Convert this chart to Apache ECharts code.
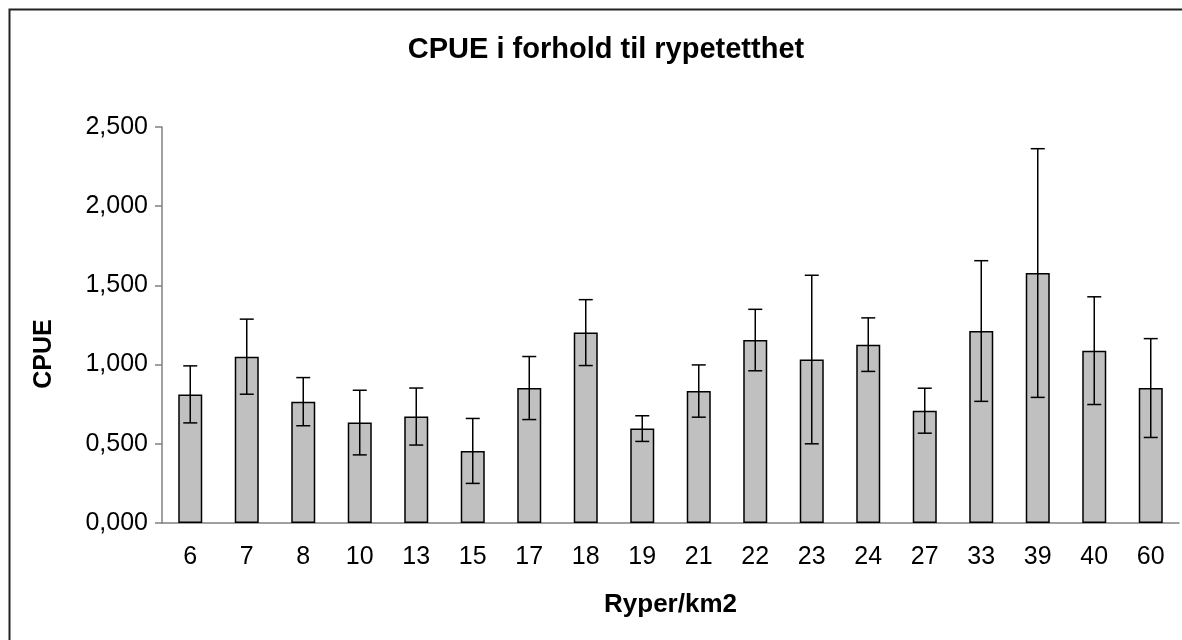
<!DOCTYPE html>
<html>
<head>
<meta charset="utf-8">
<script src="https://cdn.jsdelivr.net/npm/echarts@6/dist/echarts.min.js"></script>
<style>
    html, body { margin: 0; padding: 0; background: #fff; }
    #main { width: 1182px; height: 640px; }
</style>
</head>
<body>
<div id="main"></div>
<script>
    // Ryper/km2 categories
    var densities = ['6', '7', '8', '10', '13', '15', '17', '18', '19', '21', '22', '23', '24', '27', '33', '39', '40', '60'];
    // mean CPUE per density
    var cpue = [0.812, 1.050, 0.766, 0.634, 0.672, 0.455, 0.852, 1.202, 0.596, 0.833, 1.155, 1.032, 1.126, 0.709, 1.212, 1.578, 1.088, 0.852];
    // half length of the error bars
    var cpueErr = [0.180, 0.237, 0.152, 0.204, 0.180, 0.205, 0.199, 0.208, 0.081, 0.165, 0.194, 0.532, 0.169, 0.142, 0.444, 0.785, 0.340, 0.312];
    var yTicks = [0, 0.5, 1, 1.5, 2, 2.5];

    var font = '"Liberation Sans", Arial, sans-serif';

    var errData = cpue.map(function (v, i) {
        return [i, v - cpueErr[i], v + cpueErr[i]];
    });

    var chart = echarts.init(document.getElementById('main'));

    var option = {
        animation: false,
        backgroundColor: '#fff',
        title: {
            text: 'CPUE i forhold til rypetetthet',
            left: 601,
            top: 30,
            textAlign: 'center',
            textStyle: {
                fontFamily: font,
                fontWeight: 'bold',
                fontSize: 29,
                color: '#000'
            }
        },
        graphic: [
            {
                type: 'rect',
                left: 7,
                top: 7,
                shape: { width: 1200, height: 660 },
                style: { fill: 'none', stroke: '#222', lineWidth: 2 },
                silent: true
            },
            {
                type: 'text',
                x: 44,
                y: 354,
                rotation: Math.PI / 2,
                style: {
                    text: 'CPUE',
                    fontFamily: font,
                    fontWeight: 'bold',
                    fontSize: 25,
                    fill: '#000',
                    align: 'center',
                    verticalAlign: 'middle'
                }
            }
        ],
        grid: {
            left: 162,
            right: 3,
            top: 127,
            bottom: 117
        },
        xAxis: {
            type: 'category',
            data: densities,
            name: 'Ryper/km2',
            nameLocation: 'middle',
            nameGap: 69,
            nameTextStyle: {
                fontFamily: font,
                fontWeight: 'bold',
                fontSize: 26,
                color: '#000'
            },
            axisLine: { lineStyle: { color: '#808080', width: 1.5 } },
            axisTick: { length: 7, lineStyle: { color: '#808080', width: 1.5 } },
            axisLabel: {
                margin: 22,
                fontFamily: font,
                fontSize: 25,
                color: '#000'
            },
            splitLine: { show: false }
        },
        yAxis: {
            type: 'value',
            min: 0,
            max: yTicks[yTicks.length - 1],
            interval: 0.5,
            axisLine: { show: true, lineStyle: { color: '#808080', width: 1.5 } },
            axisTick: { show: true, length: 7, lineStyle: { color: '#808080', width: 1.5 } },
            axisLabel: {
                margin: 14,
                fontFamily: font,
                fontSize: 25,
                color: '#000',
                formatter: function (v) {
                    return v.toFixed(3).replace('.', ',');
                }
            },
            splitLine: { show: false }
        },
        series: [
            {
                type: 'bar',
                data: cpue,
                barWidth: '42.5%',
                itemStyle: {
                    color: '#c0c0c0',
                    borderColor: '#000',
                    borderWidth: 1.5
                }
            },
            {
                type: 'custom',
                data: errData,
                z: 10,
                renderItem: function (params, api) {
                    var x = api.value(0);
                    var lo = api.coord([x, api.value(1)]);
                    var hi = api.coord([x, api.value(2)]);
                    var half = 7;
                    var style = { stroke: '#000', lineWidth: 1.5 };
                    return {
                        type: 'group',
                        children: [
                            { type: 'line', shape: { x1: lo[0], y1: lo[1], x2: hi[0], y2: hi[1] }, style: style },
                            { type: 'line', shape: { x1: hi[0] - half, y1: hi[1], x2: hi[0] + half, y2: hi[1] }, style: style },
                            { type: 'line', shape: { x1: lo[0] - half, y1: lo[1], x2: lo[0] + half, y2: lo[1] }, style: style }
                        ]
                    };
                }
            }
        ]
    };

    chart.setOption(option);
</script>
</body>
</html>
